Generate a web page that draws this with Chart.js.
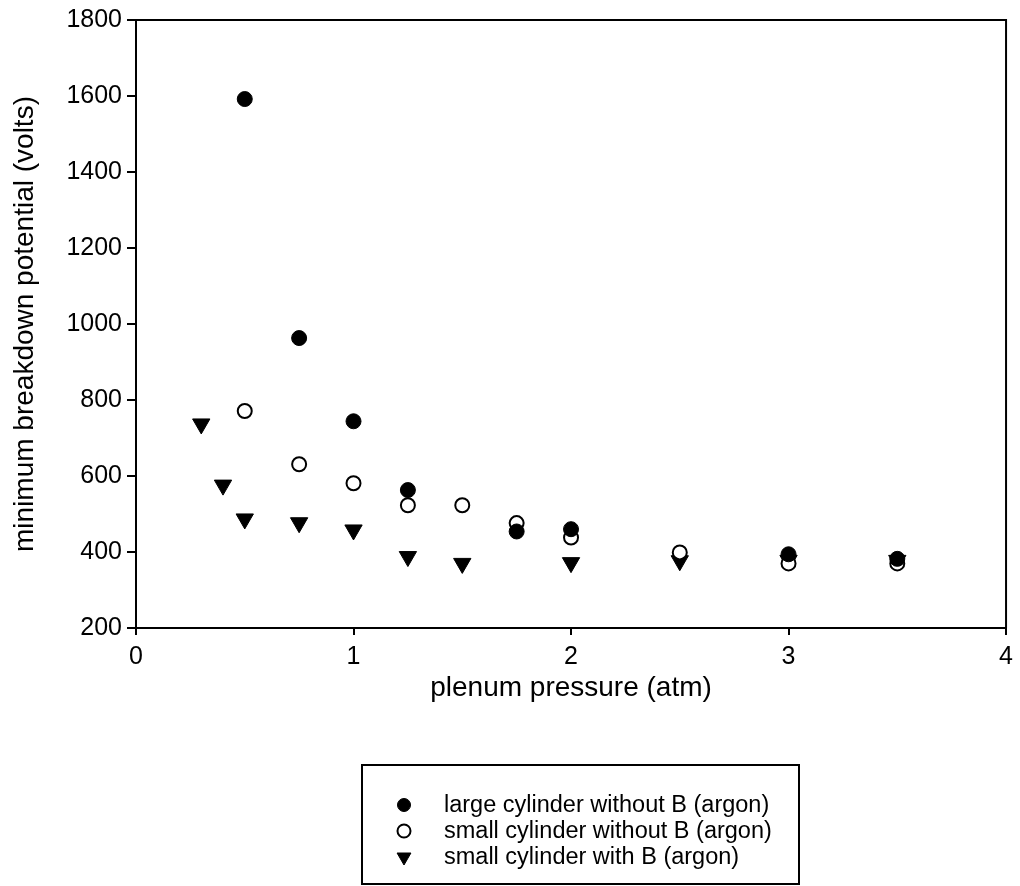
<!DOCTYPE html>
<html>
<head>
<meta charset="utf-8">
<script src="https://cdn.jsdelivr.net/npm/chart.js@4/dist/chart.umd.min.js"></script>
<style>
  html, body { margin: 0; padding: 0; background: #fff; }
  #wrap { width: 1020px; height: 886px; position: relative; }
</style>
</head>
<body>
<div id="wrap"><canvas id="chart" width="1020" height="886"></canvas></div>
<script>
// data
const largeX = [0.5, 0.75, 1.0, 1.25, 1.75, 2.0, 3.0, 3.5];
const largeY = [1592, 963, 744, 563, 454, 460, 394, 382];

const smallX = [0.5, 0.75, 1.0, 1.25, 1.5, 1.75, 2.0, 2.5, 3.0, 3.5];
const smallY = [771, 631, 581, 523, 523, 476, 438, 399, 370, 370];

const smallBX = [0.3, 0.4, 0.5, 0.75, 1.0, 1.25, 1.5, 2.0, 2.5, 3.0, 3.5];
const smallBY = [737, 576, 487, 477, 458, 388, 370, 372, 377, 378, 378];

const seriesNames = [
  'large cylinder without B (argon)',
  'small cylinder without B (argon)',
  'small cylinder with B (argon)'
];

const xTicks = [0, 1, 2, 3, 4];
const yTicks = [200, 400, 600, 800, 1000, 1200, 1400, 1600, 1800];

const FONT = 'Liberation Sans, Arial, Helvetica, sans-serif';
Chart.defaults.font.family = FONT;
Chart.defaults.color = '#000';

const pts = (xs, ys) => xs.map((x, i) => ({ x, y: ys[i] }));

const styles = [
  { pointStyle: 'circle', radius: 7.5, bg: '#000', border: '#000', bw: 1, rot: 0 },
  { pointStyle: 'circle', radius: 7, bg: '#fff', border: '#000', bw: 2, rot: 0 },
  { pointStyle: 'triangle', radius: 10, bg: '#000', border: '#000', bw: 1, rot: 180 }
];

// frame around plot + boxed legend under it
const framePlugin = {
  id: 'frameAndLegend',
  afterDraw(chart) {
    const { ctx, chartArea: a } = chart;
    ctx.save();
    ctx.strokeStyle = '#000';
    ctx.lineWidth = 2;
    ctx.beginPath();
    ctx.moveTo(a.left, a.top);
    ctx.lineTo(a.right, a.top);
    ctx.lineTo(a.right, a.bottom);
    ctx.stroke();

    // legend box
    const bx = 362, by = 765, bw = 437, bh = 119;
    ctx.lineWidth = 2;
    ctx.strokeRect(bx, by, bw, bh);
    ctx.font = '23.5px ' + FONT;
    ctx.textBaseline = 'middle';
    const rowY = [805, 831, 857];
    seriesNames.forEach((name, i) => {
      const s = styles[i];
      ctx.fillStyle = s.bg;
      ctx.strokeStyle = s.border;
      ctx.lineWidth = s.bw;
      const r = i === 2 ? 8 : 6.5;
      Chart.helpers.drawPoint(ctx, { pointStyle: s.pointStyle, radius: r, rotation: s.rot, borderWidth: s.bw }, 404, rowY[i]);
      ctx.fillStyle = '#000';
      ctx.fillText(name, 444, rowY[i] + 1);
    });
    ctx.restore();
  }
};

const datasets = [pts(largeX, largeY), pts(smallX, smallY), pts(smallBX, smallBY)].map((d, i) => ({
  label: seriesNames[i],
  data: d,
  showLine: false,
  pointStyle: styles[i].pointStyle,
  pointRadius: styles[i].radius,
  pointHoverRadius: styles[i].radius,
  pointBackgroundColor: styles[i].bg,
  pointBorderColor: styles[i].border,
  pointBorderWidth: styles[i].bw,
  pointRotation: styles[i].rot
}));
// draw triangles first, then open circles, then filled ones on top
datasets[0].order = 1;
datasets[1].order = 2;
datasets[2].order = 3;

new Chart(document.getElementById('chart'), {
  type: 'scatter',
  data: { datasets },
  options: {
    responsive: false,
    animation: false,
    events: [],
    layout: { padding: { top: 15, right: 11, bottom: 178, left: 0 } },
    plugins: {
      legend: { display: false },
      tooltip: { enabled: false }
    },
    scales: {
      x: {
        type: 'linear',
        min: 0,
        max: 4,
        afterFit(scale) { scale.height = 80; },
        afterBuildTicks(scale) { scale.ticks = xTicks.map(v => ({ value: v })); },
        grid: { drawOnChartArea: false, tickLength: 7, color: '#000', lineWidth: 2 },
        border: { color: '#000', width: 2 },
        ticks: { font: { size: 25 }, padding: 7, maxRotation: 0, callback: v => String(v) },
        title: {
          display: true,
          text: 'plenum pressure (atm)',
          font: { size: 28 },
          padding: { top: 0, bottom: 3 }
        }
      },
      y: {
        type: 'linear',
        min: 200,
        max: 1800,
        afterFit(scale) { scale.width = 136; },
        afterBuildTicks(scale) { scale.ticks = yTicks.map(v => ({ value: v })); },
        grid: { drawOnChartArea: false, tickLength: 9, color: '#000', lineWidth: 2 },
        border: { color: '#000', width: 2 },
        ticks: { font: { size: 25 }, padding: 5, callback: v => String(v) },
        title: {
          display: true,
          text: 'minimum breakdown potential (volts)',
          font: { size: 28 },
          padding: { top: 8, bottom: 0 }
        }
      }
    }
  },
  plugins: [framePlugin]
});
</script>
</body>
</html>
